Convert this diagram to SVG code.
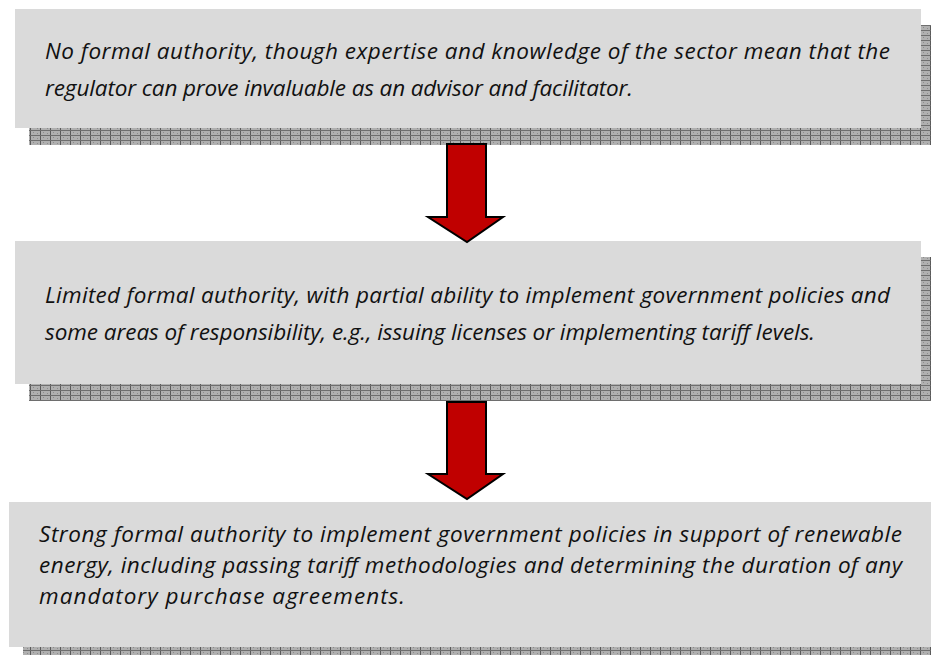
<svg xmlns="http://www.w3.org/2000/svg" width="931" height="655" viewBox="0 0 931 655">
<defs>
<pattern id="grid" width="10" height="5" patternUnits="userSpaceOnUse">
<rect width="10" height="5" fill="#b0b0b0"/>
<rect x="3" y="2" width="1" height="1" fill="#8c8c8c"/>
<rect x="7" y="3" width="1" height="1" fill="#8c8c8c"/>
<rect x="0" y="0" width="1" height="5" fill="#5a5a5a"/>
<rect x="0" y="0" width="10" height="1" fill="#6e6e6e"/>
</pattern>
<style>
.box{fill:#dadada}
.shadow{fill:url(#grid)}
.arrow{fill:#c00000;stroke:#000;stroke-width:2;stroke-linejoin:miter}
.t{font-family:"Open Sans",Lato,"Liberation Sans",sans-serif;font-style:italic;font-size:22.5px;fill:#111}
</style>
</defs>
<g id="node1">
<rect class="shadow" x="29" y="25" width="902" height="120"/>
<rect class="box" x="15" y="9" width="906" height="119"/>
<text class="t" x="45" y="59" textLength="845" lengthAdjust="spacing">No formal authority, though expertise and knowledge of the sector mean that the</text>
<text class="t" x="45" y="96" textLength="588" lengthAdjust="spacing">regulator can prove invaluable as an advisor and facilitator.</text>
</g>
<g id="node2">
<rect class="shadow" x="29" y="257" width="902" height="144"/>
<rect class="box" x="15" y="241" width="906" height="143"/>
<text class="t" x="45" y="303" textLength="845" lengthAdjust="spacing">Limited formal authority, with partial ability to implement government policies and</text>
<text class="t" x="45" y="340" textLength="770" lengthAdjust="spacing">some areas of responsibility, e.g., issuing licenses or implementing tariff levels.</text>
</g>
<g id="node3">
<rect class="shadow" x="23" y="518" width="908" height="137"/>
<rect class="box" x="9" y="502" width="922" height="145"/>
<text class="t" x="39" y="542" textLength="863" lengthAdjust="spacing">Strong formal authority to implement government policies in support of renewable</text>
<text class="t" x="39" y="573" textLength="863" lengthAdjust="spacing">energy, including passing tariff methodologies and determining the duration of any</text>
<text class="t" x="39" y="604" textLength="366" lengthAdjust="spacing">mandatory purchase agreements.</text>
</g>
<g id="connectors">
<polygon class="arrow" points="447,144 486,144 486,217 503,217 467,242 428,217 447,217"/>
<polygon class="arrow" points="447,402 486,402 486,474 503,474 467,499 428,474 447,474"/>
</g>
</svg>
